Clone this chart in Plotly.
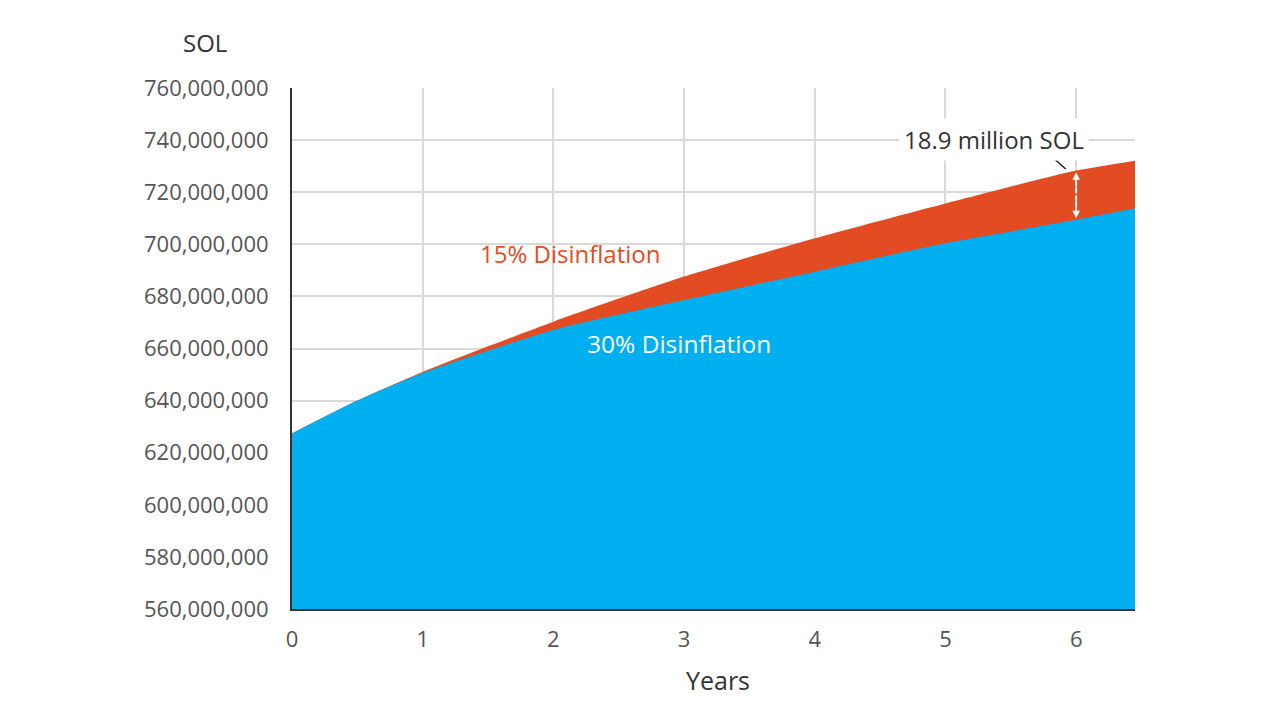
import plotly.graph_objects as go

# Data
years = [0, 0.5, 1, 2, 3, 4, 5, 6, 6.45]
supply_15 = [627.4e6, 640.0e6, 651.0e6, 670.3e6, 687.6e6, 702.3e6, 715.7e6, 728.3e6, 732.1e6]
supply_30 = [627.4e6, 640.0e6, 650.6e6, 667.1e6, 678.6e6, 689.5e6, 700.4e6, 709.4e6, 713.8e6]
gap_label = "18.9 million SOL"

blue = "#00AFEF"
orange = "#E34B22"
font = "Open Sans"

fig = go.Figure()

# 15% curve drawn first, 30% curve painted on top of it
fig.add_trace(go.Scatter(x=years, y=supply_15, mode="lines", line=dict(width=0, shape="spline", smoothing=0.6),
                         fill="tozeroy", fillcolor=orange, hoverinfo="skip"))
fig.add_trace(go.Scatter(x=years, y=supply_30, mode="lines", line=dict(width=0, shape="spline", smoothing=0.6),
                         fill="tozeroy", fillcolor=blue, hoverinfo="skip"))

# page has an 8px body margin, so the margins are trimmed to land the plot where the reference has it
fig.update_layout(
    width=1280, height=720,
    margin=dict(l=284, r=153, t=80, b=119),
    paper_bgcolor="white", plot_bgcolor="white",
    showlegend=False,
    font=dict(family=font, color="#555555", size=20),
)

fig.update_xaxes(
    range=[0, 6.45], tickvals=[0, 1, 2, 3, 4, 5, 6],
    showgrid=True, gridcolor="#D9D9D9", gridwidth=1.5,
    showline=True, linecolor="#333333", linewidth=2,
    zeroline=False, ticks="", ticklabelstandoff=10,
    tickfont=dict(size=22),
)
fig.update_yaxes(
    range=[560e6, 760e6], dtick=20e6, tickformat=",d",
    showgrid=True, gridcolor="#D9D9D9", gridwidth=1.5,
    showline=True, linecolor="#333333", linewidth=2,
    zeroline=False, ticks="", ticklabelstandoff=17,
    tickfont=dict(size=22),
)

# Axis captions
fig.add_annotation(text="SOL", xref="paper", yref="paper", x=-0.103, y=1.0864,
                   xanchor="center", yanchor="middle", showarrow=False,
                   font=dict(size=24, color="#333333", weight=500))
fig.add_annotation(text="Years", xref="paper", yref="paper", x=0.5059, y=-0.1363,
                   xanchor="center", yanchor="middle", showarrow=False,
                   font=dict(size=25, color="#333333", weight=500))

# Series labels
fig.add_annotation(text="15% Disinflation", x=2.13, y=696.3e6, showarrow=False,
                   font=dict(size=24, color=orange, weight=500))
fig.add_annotation(text="30% Disinflation", x=2.96, y=662.1e6, showarrow=False,
                   font=dict(size=24.5, color="white", weight=500))

# Gap callout
fig.add_annotation(text=gap_label, x=5.37, y=740.4e6, showarrow=False, bgcolor="white",
                   font=dict(size=24, color="#333333", weight=500), borderpad=4)
fig.add_shape(type="line", x0=5.80, y0=734.3e6, x1=5.92, y1=728.9e6,
              line=dict(color="#222222", width=1.5))
fig.add_shape(type="line", x0=6, y0=supply_30[7] + 2.5e6, x1=6, y1=supply_15[7] - 2.5e6,
              line=dict(color="white", width=1.8, dash="4px,3px"))
for end in (supply_15[7] - 0.6e6, supply_30[7] + 0.6e6):
    fig.add_annotation(x=6, y=end, ax=6, ay=(supply_15[7] + supply_30[7]) / 2,
                       axref="x", ayref="y", text="", showarrow=True,
                       arrowhead=2, arrowsize=1, arrowwidth=1.5, arrowcolor="white")

fig.write_html("out.html")
